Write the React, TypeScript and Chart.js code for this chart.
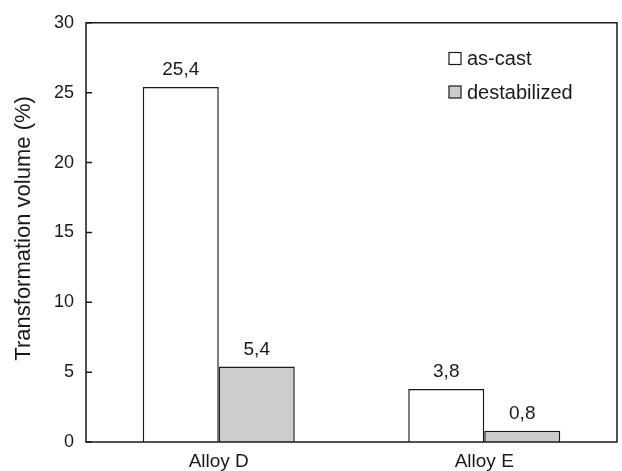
import React, { useEffect, useRef } from "react";
import { Chart, registerables } from "chart.js";

Chart.register(...registerables);

const categories = ["Alloy D", "Alloy E"];
const asCast = [25.4, 3.8];
const destabilized = [5.4, 0.8];
const seriesLabels = ["as-cast", "destabilized"];
const yTicks = [0, 5, 10, 15, 20, 25, 30];
const yTitle = "Transformation volume (%)";

const FONT = "'Liberation Sans', Arial, Helvetica, sans-serif";
const INK = "#1a1a1a";

const framePlugin = {
  id: "frame",
  afterDatasetsDraw(chart: any) {
    const { ctx, chartArea } = chart;
    const { left, right, top, bottom } = chartArea;
    const y = chart.scales.y;
    ctx.save();
    ctx.strokeStyle = INK;
    ctx.lineWidth = 1.5;
    ctx.beginPath();
    ctx.rect(left, top, right - left, bottom - top);
    ctx.stroke();
    ctx.beginPath();
    yTicks.forEach((v) => {
      const py = y.getPixelForValue(v);
      ctx.moveTo(left, py);
      ctx.lineTo(left + 6, py);
    });
    ctx.stroke();
    // y-axis title
    ctx.fillStyle = INK;
    ctx.font = `22px ${FONT}`;
    ctx.textAlign = "center";
    ctx.textBaseline = "middle";
    ctx.translate(24, (top + bottom) / 2 - 4);
    ctx.rotate(-Math.PI / 2);
    ctx.fillText(yTitle, 0, 0);
    ctx.restore();
  },
};

const valueLabelPlugin = {
  id: "valueLabels",
  afterDatasetsDraw(chart: any) {
    const { ctx } = chart;
    ctx.save();
    ctx.fillStyle = INK;
    ctx.font = `19px ${FONT}`;
    ctx.textAlign = "center";
    ctx.textBaseline = "alphabetic";
    chart.data.datasets.forEach((ds: any, di: number) => {
      const meta = chart.getDatasetMeta(di);
      meta.data.forEach((bar: any, i: number) => {
        const txt = String(ds.data[i]).replace(".", ",");
        ctx.fillText(txt, bar.x, bar.y - 12);
      });
    });
    ctx.restore();
  },
};

const legendPlugin = {
  id: "customLegend",
  afterDraw(chart: any) {
    const { ctx } = chart;
    ctx.save();
    ctx.font = `20px ${FONT}`;
    ctx.textBaseline = "middle";
    ctx.textAlign = "left";
    chart.data.datasets.forEach((ds: any, i: number) => {
      const cy = 58.5 + i * 33.5;
      ctx.fillStyle = ds.backgroundColor;
      ctx.fillRect(449, cy - 6, 12, 12);
      ctx.strokeStyle = INK;
      ctx.lineWidth = 1.2;
      ctx.strokeRect(449, cy - 6, 12, 12);
      ctx.fillStyle = INK;
      ctx.fillText(ds.label, 467, cy + 1);
    });
    ctx.restore();
  },
};

export default function App() {
  const ref = useRef<HTMLCanvasElement | null>(null);
  useEffect(() => {
    if (!ref.current) return;
    const chart = new Chart(ref.current, {
      type: "bar",
      data: {
        labels: categories,
        datasets: [
          {
            label: seriesLabels[0],
            data: asCast,
            backgroundColor: "#ffffff",
            borderColor: INK,
            borderWidth: 1.5,
            categoryPercentage: 0.5725,
            barPercentage: 1,
          },
          {
            label: seriesLabels[1],
            data: destabilized,
            backgroundColor: "#cccccc",
            borderColor: INK,
            borderWidth: 1.5,
            categoryPercentage: 0.5725,
            barPercentage: 1,
          },
        ],
      },
      options: {
        animation: false,
        responsive: false,
        maintainAspectRatio: false,
        layout: { padding: { top: 16, right: 5, bottom: 0, left: 0 } },
        plugins: {
          legend: { display: false },
          tooltip: { enabled: false },
        },
        scales: {
          x: {
            grid: { display: false, drawTicks: false },
            border: { display: false },
            ticks: {
              color: INK,
              font: { family: FONT, size: 19 },
              padding: 8,
            },
            afterFit: (s: any) => {
              s.height = 29;
            },
          },
          y: {
            min: 0,
            max: 30,
            grid: { display: false, drawTicks: false },
            border: { display: false },
            afterBuildTicks: (s: any) => {
              s.ticks = yTicks.map((v) => ({ value: v }));
            },
            ticks: {
              color: INK,
              font: { family: FONT, size: 18 },
              padding: 12,
            },
            afterFit: (s: any) => {
              s.width = 86;
            },
          },
        },
      },
      plugins: [framePlugin, valueLabelPlugin, legendPlugin],
    });
    return () => chart.destroy();
  }, []);
  return (
    <div style={{ position: "fixed", left: 0, top: 0, width: 622, height: 471, background: "#fff" }}>
      <canvas ref={ref} width={622} height={471} style={{ display: "block" }} />
    </div>
  );
}
